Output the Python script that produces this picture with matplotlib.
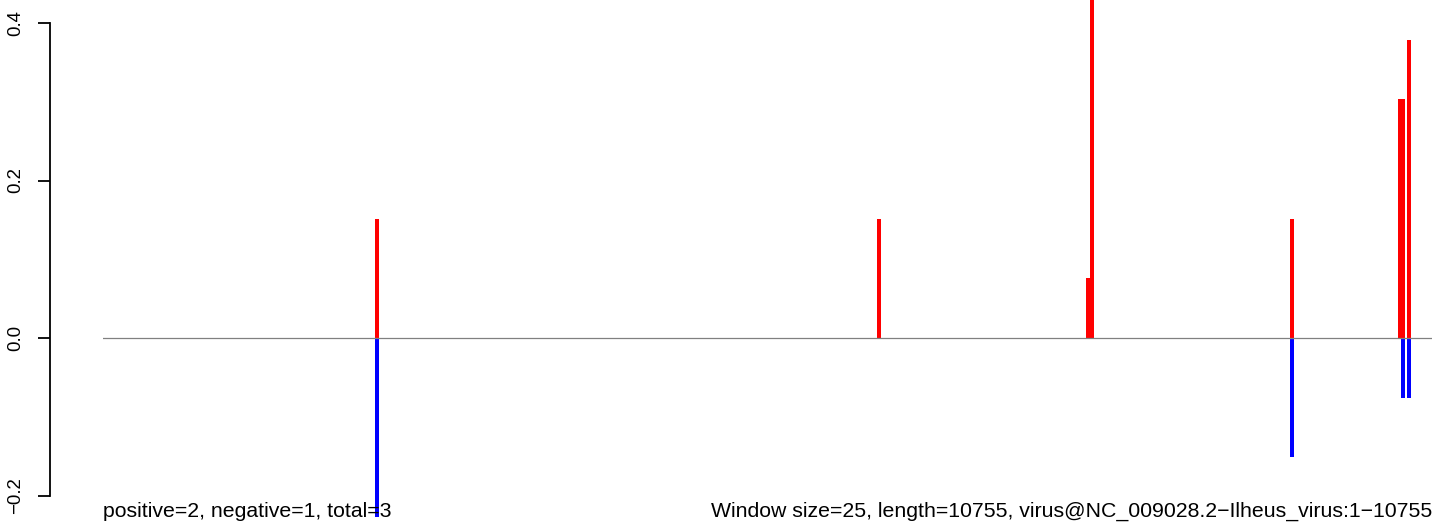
import numpy as np
import matplotlib
matplotlib.use("Agg")
import matplotlib.pyplot as plt

plt.rcParams['font.family'] = ['Liberation Sans', 'DejaVu Sans']

# window positions (nt) and scores
pos_x = [2217, 6280, 7973, 8001, 9622, 10493, 10521, 10568]
pos_y = [0.151, 0.151, 0.076, 0.454, 0.151, 0.303, 0.303, 0.378]
neg_x = [2217, 9622, 10521, 10568]
neg_y = [-0.227, -0.151, -0.076, -0.076]

seq_len = 10755
yticks = [-0.2, 0.0, 0.2, 0.4]
left_note = "positive=2, negative=1, total=3"
right_note = "Window size=25, length=10755, virus@NC_009028.2\u2212Ilheus_virus:1\u221210755"

W, H = 1444, 529
fig = plt.figure(figsize=(W / 100, H / 100), dpi=100)
ax = fig.add_axes([103 / W, 0, (1432 - 103) / W, 1])

ax.bar(pos_x, pos_y, width=30, color='#FF0000', linewidth=0)
ax.bar(neg_x, neg_y, width=30, color='#0000FF', linewidth=0)
ax.axhline(0, color='#808080', linewidth=0.9)

ax.set_xlim(0, seq_len)
ax.set_ylim((338 - 529) / 787.5, 338 / 787.5)

for s in ['top', 'right', 'bottom']:
    ax.spines[s].set_visible(False)
ax.spines['left'].set_position(('outward', 53 * 0.72))
ax.spines['left'].set_bounds(-0.2, 0.4)
ax.spines['left'].set_linewidth(1.3)
ax.set_xticks([])
ax.set_yticks(yticks)
ax.set_yticklabels(["\u22120.2", "0.0", "0.2", "0.4"], rotation=90, va='center', fontsize=13.4)
ax.tick_params(axis='y', length=12 * 0.72, width=1.3, pad=10)

fig.text(103 / W, 12 / H, left_note, ha='left', va='baseline', fontsize=15.3)
fig.text(1432 / W, 12 / H, right_note, ha='right', va='baseline', fontsize=15.3)

fig.savefig("out.png", dpi=100)
